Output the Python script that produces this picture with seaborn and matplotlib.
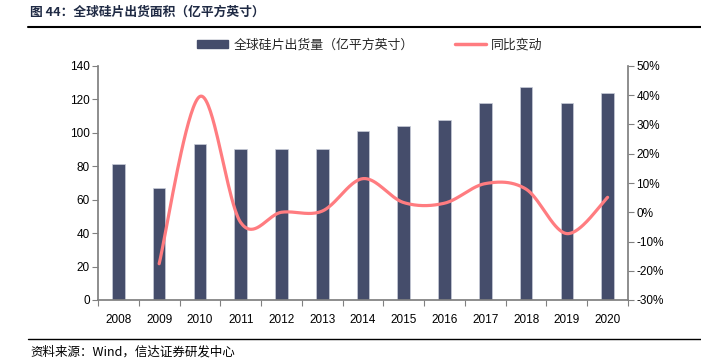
import numpy as np
import pandas as pd
import matplotlib
matplotlib.use("Agg")
import matplotlib.pyplot as plt
import seaborn as sns
from matplotlib.lines import Line2D
from matplotlib.patches import Patch

years = ["2008", "2009", "2010", "2011", "2012", "2013", "2014",
         "2015", "2016", "2017", "2018", "2019", "2020"]
shipments = [81.2, 67.0, 93.5, 90.2, 90.2, 90.6, 101.0,
             104.3, 107.5, 118.0, 127.3, 118.0, 124.0]
yoy = [None, -17.6, 39.6, -3.5, 0.0, 0.4, 11.5,
       3.3, 3.1, 9.8, 7.9, -7.3, 5.1]
left_ticks = [0, 20, 40, 60, 80, 100, 120, 140]
right_ticks = [-30, -20, -10, 0, 10, 20, 30, 40, 50]

bar_color = "#454D6B"
line_color = "#FF7C80"

sns.set_theme(style="white")
plt.rcParams['font.family'] = ['Liberation Sans', 'Noto Sans CJK SC']

fig = plt.figure(figsize=(7.01, 3.63), dpi=100)
ax = fig.add_axes([98/701, 63/363, 530/701, 234/363])

df = pd.DataFrame({"year": years, "value": shipments})
sns.barplot(data=df, x="year", y="value", ax=ax, color=bar_color,
            width=0.31, edgecolor="#C8CCD8", linewidth=0.5, saturation=1)
ax.set_xlim(-0.5, len(years) - 0.5)
ax.set_ylim(0, 140)
ax.set_yticks(left_ticks)
ax.set_xlabel("")
ax.set_ylabel("")

# smooth curve (Excel style Bezier through points)
pts = [(i, v) for i, v in enumerate(yoy) if v is not None]
px = np.array([p[0] for p in pts], float)
py = np.array([p[1] for p in pts], float)
cx, cy = [], []
n = len(px)
for i in range(n - 1):
    p0 = (px[i-1], py[i-1]) if i > 0 else (px[i], py[i])
    p1 = (px[i], py[i])
    p2 = (px[i+1], py[i+1])
    p3 = (px[i+2], py[i+2]) if i + 2 < n else (px[i+1], py[i+1])
    c1 = (p1[0] + (p2[0]-p0[0])/6, p1[1] + (p2[1]-p0[1])/6)
    c2 = (p2[0] - (p3[0]-p1[0])/6, p2[1] - (p3[1]-p1[1])/6)
    t = np.linspace(0, 1, 40)
    bx = (1-t)**3*p1[0] + 3*(1-t)**2*t*c1[0] + 3*(1-t)*t**2*c2[0] + t**3*p2[0]
    by = (1-t)**3*p1[1] + 3*(1-t)**2*t*c1[1] + 3*(1-t)*t**2*c2[1] + t**3*p2[1]
    cx.extend(bx); cy.extend(by)

ax2 = ax.twinx()
sns.lineplot(x=cx, y=cy, ax=ax2, color=line_color, linewidth=2.3, sort=False)
ax2.set_ylim(-30, 50)
ax2.set_yticks(right_ticks)
ax2.set_yticklabels([f"{t}%" for t in right_ticks])

spine_c = "#808080"
for a in (ax, ax2):
    for s in a.spines.values():
        s.set_visible(False)
    a.tick_params(labelsize=8.5, colors="black", length=4, width=0.8,
                  color=spine_c, pad=2)
ax.spines["left"].set_visible(True)
ax.spines["left"].set_color(spine_c)
ax.spines["bottom"].set_visible(True)
ax.spines["bottom"].set_color(spine_c)
ax2.spines["right"].set_visible(True)
ax2.spines["right"].set_color(spine_c)
ax.tick_params(axis="y", left=True, direction="out")
ax2.tick_params(axis="y", right=True, direction="out")
ax.tick_params(axis="x", bottom=False, pad=6)
ax.set_xticks(np.arange(-0.5, len(years), 1.0), minor=True)
ax.tick_params(axis="x", which="minor", bottom=True, length=4, width=0.8,
               color=spine_c, direction="out")

handles = [Patch(facecolor=bar_color, edgecolor=bar_color),
           Line2D([0], [0], color=line_color, linewidth=2.5)]
fig.legend(handles, ["全球硅片出货量（亿平方英寸）", "同比变动"],
           loc="center", bbox_to_anchor=(370/701, 1-45/363), ncol=2,
           frameon=False, handlelength=2.4, handleheight=0.5,
           columnspacing=3.2, handletextpad=0.4,
           prop={"family": ["Noto Sans CJK SC"], "size": 9.3})

fig.text(30/701, 1-12/363, "图 44：全球硅片出货面积（亿平方英寸）",
         fontsize=9.2, fontweight="bold", color="#1F2A44",
         family=["Noto Sans CJK SC"], va="center", ha="left")
fig.add_artist(Line2D([28/701, 1], [1-27/363, 1-27/363], color="black", linewidth=1.5))
fig.add_artist(Line2D([28/701, 1], [1-339/363, 1-339/363], color="black", linewidth=1.0))
fig.text(30/701, 1-352/363, "资料来源：Wind，信达证券研发中心",
         fontsize=9, style="italic", color="black",
         family=["Noto Sans CJK SC"], va="center", ha="left")

fig.savefig("out.png", dpi=100)
